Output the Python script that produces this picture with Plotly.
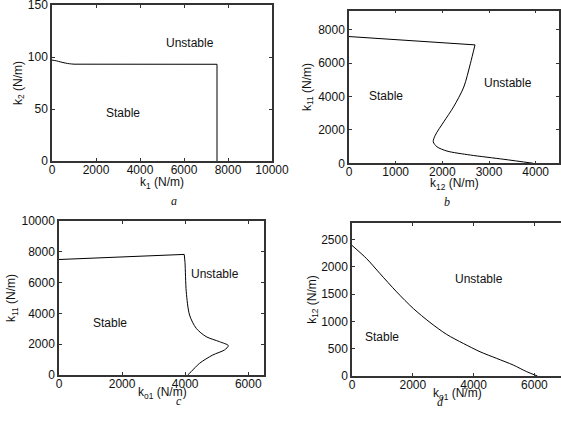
import plotly.graph_objects as go

W, H = 561, 426

# ---- data ----
# panel a: k2 vs k1
a_curve_x = [0, 200, 400, 600, 800, 1000]
a_curve_y = [97, 96.3, 95.2, 94.2, 93.5, 93.1]
a_line_x = [1000, 7500, 7500]
a_line_y = [93.1, 93, 0]

# panel b: k11 vs k12
b_line_x = [0, 2700]
b_line_y = [7600, 7100]
b_curve_x = [2700, 2600, 2460, 2240, 2030, 1850, 1805, 1885, 2100, 2600, 3320, 3950]
b_curve_y = [7100, 5970, 4575, 3380, 2485, 1690, 1290, 990, 734, 495, 239, 0]

# panel c: k11 vs ko1
c_line_x = [0, 3970]
c_line_y = [7500, 7830]
c_curve_x = [3970, 3995, 4035, 4139, 4351, 4667, 5087, 5370, 5245, 4875, 4455, 4190, 4080]
c_curve_y = [7830, 7300, 5411, 3896, 3030, 2489, 2165, 1905, 1623, 1299, 758, 216, 0]

# panel d: k12 vs ko1
d_curve_x = [0, 482, 921, 1469, 2017, 2566, 3114, 3662, 4211, 4759, 5307, 5746, 6100]
d_curve_y = [2390, 2147, 1874, 1539, 1235, 980, 761, 596, 444, 322, 200, 79, 0]

x_ranges = {"a": [0, 10000], "b": [0, 4500], "c": [0, 6500], "d": [0, 6875]}
y_ranges = {"a": [0, 150], "b": [0, 9150], "c": [0, 10000], "d": [0, 2800]}
x_ticks = {"a": [0, 2000, 4000, 6000, 8000, 10000], "b": [0, 1000, 2000, 3000, 4000],
           "c": [0, 2000, 4000, 6000], "d": [0, 2000, 4000, 6000]}
y_ticks = {"a": [0, 50, 100, 150], "b": [0, 2000, 4000, 6000, 8000],
           "c": [0, 2000, 4000, 6000, 8000, 10000], "d": [0, 500, 1000, 1500, 2000, 2500]}
x_titles = {"a": "k<sub>1</sub> (N/m)", "b": "k<sub>12</sub> (N/m)",
            "c": "k<sub>o1</sub> (N/m)", "d": "k<sub>o1</sub> (N/m)"}
y_titles = {"a": "k<sub>2</sub> (N/m)", "b": "k<sub>11</sub> (N/m)",
            "c": "k<sub>11</sub> (N/m)", "d": "k<sub>12</sub> (N/m)"}
labels_stable = {"a": (3230, 46), "b": (796, 4060), "c": (1611, 3377), "d": (987, 712)}
labels_unstable = {"a": (6270, 113), "b": (3398, 4836), "c": (4960, 6558), "d": (4178, 1770)}
captions = {"a": (169, 201), "b": (452, 202), "c": (174, 410), "d": (446, 411)}
# x-title positions (pixels: centre x, top y of the text box)
xtitle_pos = {"a": (162, 174), "b": (454, 175), "c": (162, 384), "d": (457, 385)}

# pixel boxes of each panel: left, right, top, bottom
boxes = {"a": (52, 272, 5, 161), "b": (349, 559, 10.7, 163.3),
         "c": (59, 264, 221, 375), "d": (352, 561, 223, 376)}
ytitle_standoff = {"a": 3, "b": 4, "c": 3, "d": 2}

FONT = "Liberation Sans, Arial, Helvetica, sans-serif"
fig = go.Figure()
names = ["a", "b", "c", "d"]


def add(i, xs, ys, spline):
    fig.add_trace(go.Scatter(
        x=xs, y=ys, mode="lines", xaxis="x" + ("" if i == 1 else str(i)),
        yaxis="y" + ("" if i == 1 else str(i)), showlegend=False, hoverinfo="skip",
        line=dict(color="black", width=1, shape="spline" if spline else "linear",
                  smoothing=0.8 if spline else None)))


add(1, a_curve_x, a_curve_y, True)
add(1, a_line_x, a_line_y, False)
add(2, b_line_x, b_line_y, False)
add(2, b_curve_x, b_curve_y, True)
add(3, c_line_x, c_line_y, False)
add(3, c_curve_x, c_curve_y, True)
add(4, d_curve_x, d_curve_y, True)

layout = dict(width=W, height=H, margin=dict(l=0, r=0, t=0, b=0, autoexpand=False),
              paper_bgcolor="white", plot_bgcolor="white", template="none",
              font=dict(family=FONT, size=12, color="#111"))
annotations = []
for i, n in enumerate(names, start=1):
    l, r, t, b = boxes[n]
    sx = "" if i == 1 else str(i)
    common = dict(showline=True, linecolor="#333", linewidth=1.5, ticks="inside",
                  ticklen=3, tickcolor="#333", tickwidth=1, showgrid=False,
                  zeroline=False, automargin=False, ticklabeloverflow="allow",
                  tickfont=dict(size=12, family=FONT, color="#111"))
    layout["xaxis" + sx] = dict(
        domain=[l / W, r / W], range=x_ranges[n], anchor="y" + sx,
        tickvals=x_ticks[n], ticktext=[str(v) for v in x_ticks[n]], mirror="ticks",
        ticklabelstandoff=-3, **common)
    layout["yaxis" + sx] = dict(
        domain=[1 - b / H, 1 - t / H], range=y_ranges[n], anchor="x" + sx,
        tickvals=y_ticks[n], ticktext=[str(v) for v in y_ticks[n]],
        mirror=(False if n == "d" else "ticks"),
        title=dict(text=y_titles[n], font=dict(size=12, family=FONT),
                   standoff=ytitle_standoff[n]),
        **common)
    for txt, pos in (("Stable", labels_stable[n]), ("Unstable", labels_unstable[n])):
        annotations.append(dict(text=txt, x=pos[0], y=pos[1], xref="x" + sx,
                                yref="y" + sx, showarrow=False,
                                font=dict(size=12, family=FONT, color="#111")))
    tx, ty = xtitle_pos[n]
    annotations.append(dict(text=x_titles[n], x=tx / W, y=1 - ty / H, xref="paper",
                            yref="paper", xanchor="center", yanchor="top",
                            showarrow=False, borderpad=0,
                            font=dict(size=12, family=FONT, color="#111")))
    cx, cy = captions[n]
    annotations.append(dict(text="<i>%s</i>" % n, x=cx / W, y=1 - cy / H,
                            xref="paper", yref="paper", showarrow=False,
                            font=dict(size=12, family="Liberation Serif, Times New Roman, serif",
                                      color="#111")))
layout["annotations"] = annotations
fig.update_layout(**layout)
fig.write_html("out.html")
